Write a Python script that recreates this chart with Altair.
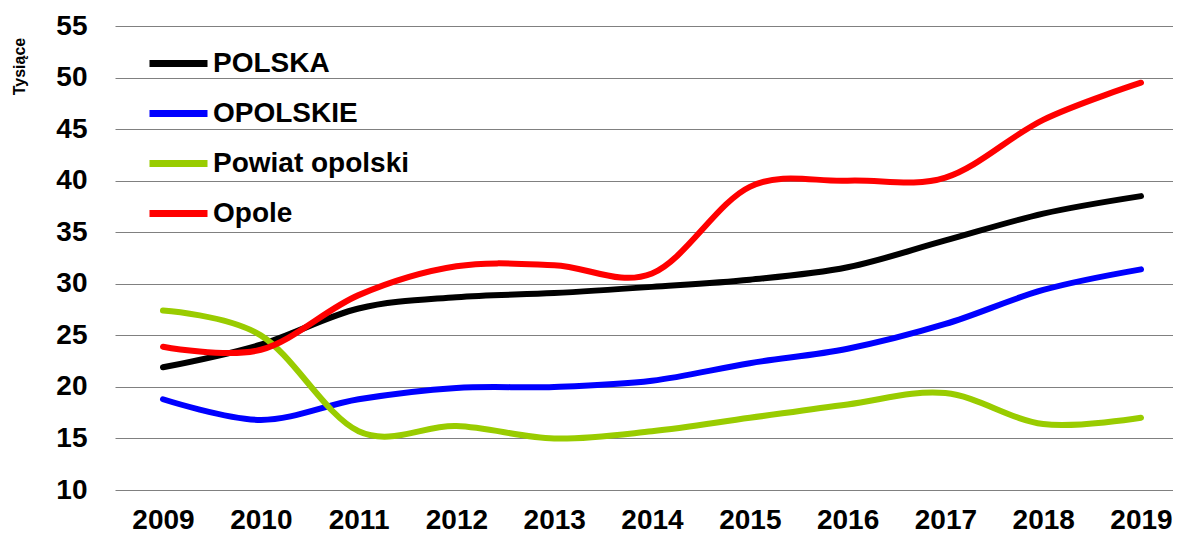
import altair as alt
import pandas as pd

years = ["2009", "2010", "2011", "2012", "2013", "2014", "2015", "2016", "2017", "2018", "2019"]
series_names = ["POLSKA", "OPOLSKIE", "Powiat opolski", "Opole"]
polska = [21.9, 24.1, 27.6, 28.7, 29.1, 29.7, 30.4, 31.6, 34.2, 36.8, 38.5]
opolskie = [18.8, 16.8, 18.8, 19.9, 20.0, 20.6, 22.3, 23.7, 26.1, 29.4, 31.4]
powiat = [27.4, 25.0, 15.7, 16.2, 15.0, 15.7, 17.0, 18.3, 19.4, 16.4, 17.0]
opole = [23.9, 23.6, 28.9, 31.7, 31.8, 31.0, 39.4, 40.0, 40.3, 45.9, 49.5]
colors = ["#000000", "#0000FF", "#99CC00", "#FF0000"]
y_ticks = [10, 15, 20, 25, 30, 35, 40, 45, 50, 55]

rows = []
for name, vals in zip(series_names, [polska, opolskie, powiat, opole]):
    for yr, v in zip(years, vals):
        rows.append({"Rok": yr, "Seria": name, "Wartosc": v, "order": series_names.index(name)})
df = pd.DataFrame(rows)

FONT = "Liberation Sans"

chart = alt.Chart(df).mark_line(
    interpolate="cardinal", strokeWidth=6, strokeCap="round", strokeJoin="round"
).encode(
    x=alt.X("Rok:O", sort=years, title=None,
            scale=alt.Scale(type="point", padding=0.409, align=0.6),
            axis=alt.Axis(labelAngle=0, labelFont=FONT, labelFontSize=28, labelFontWeight="bold",
                          labelColor="#000000", ticks=False, domain=False, grid=False, labelPadding=16)),
    y=alt.Y("Wartosc:Q", title="Tysiące",
            scale=alt.Scale(domain=[10, 55], nice=False, zero=False),
            axis=alt.Axis(values=y_ticks, labelFont=FONT, labelFontSize=28, labelFontWeight="bold",
                          labelColor="#000000", ticks=False, domain=False, grid=True,
                          gridColor="#808080", gridWidth=1, labelPadding=28,
                          titleFont=FONT, titleFontSize=16, titleFontWeight="bold", titleColor="#000000",
                          titleAngle=-90, titleX=-96, titleY=40, titleAlign="center", titleBaseline="middle")),
    color=alt.Color("Seria:N", sort=series_names,
                    scale=alt.Scale(domain=series_names, range=colors),
                    legend=alt.Legend(title=None, orient="none", legendX=31, legendY=5,
                                      symbolType="stroke", symbolSize=3364, symbolStrokeWidth=7,
                                      labelFont=FONT, labelFontSize=28, labelFontWeight="bold",
                                      labelColor="#000000", rowPadding=3, labelOffset=2,
                                      labelLimit=0, symbolOffset=0)),
    order=alt.Order("order:Q"),
).properties(
    width=1058, height=464,
    autosize=alt.AutoSizeParams(type="none"),
    padding={"left": 107, "top": 18, "right": 0, "bottom": 43},
).configure_view(stroke=None)

chart.save("out.html", embed_options={"renderer": "svg", "actions": False})
